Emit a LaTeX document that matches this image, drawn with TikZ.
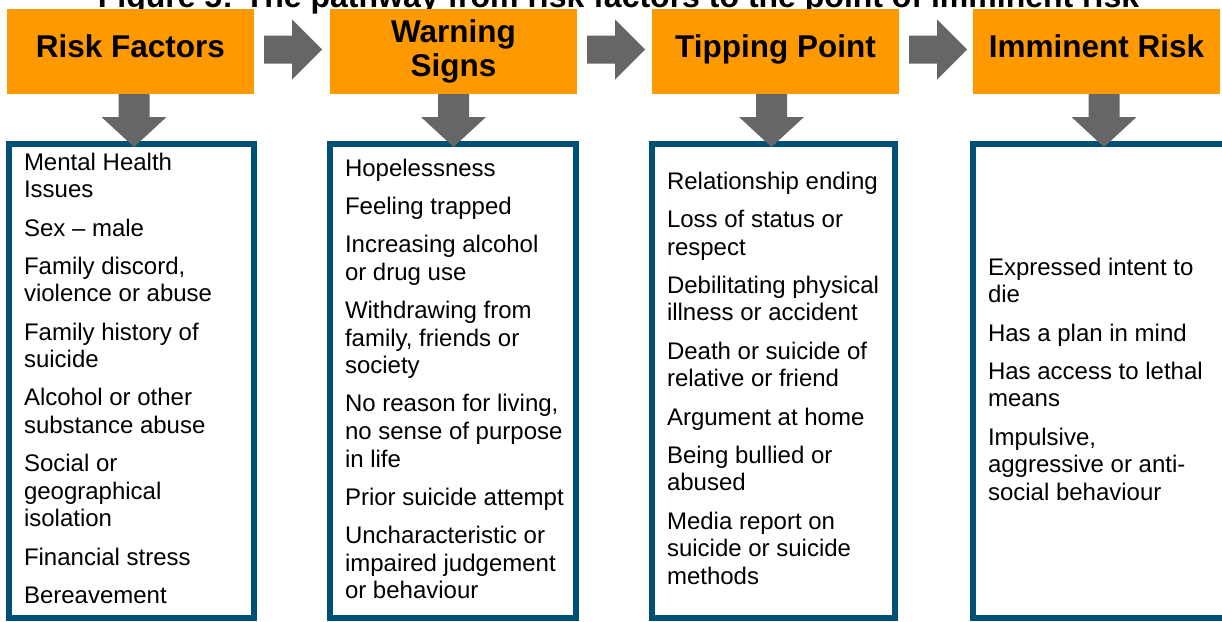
\documentclass[tikz,border=0pt]{standalone}
\usepackage{fontspec}
\setmainfont{Liberation Sans}
\usetikzlibrary{calc}
\definecolor{hdrorange}{RGB}{255,153,0}
\definecolor{arrgray}{RGB}{102,102,102}
\definecolor{boxblue}{RGB}{0,80,117}
\newcommand\rightblock[1]{%
  \fill[blockarrow] ($(#1.east)+(10,-16)$) -- ++(28,0) -- ++(0,-16) -- ++(30,30)
    -- ++(-30,30) -- ++(0,-16) -- ++(-28,0) -- cycle;}
\newcommand\downblock[2]{%
  \fill[blockarrow] ($(#1.south)+(#2-15.5,0)$) -- ++(31,0) -- ++(0,23) -- ++(17,0)
    -- ++(-32.5,30) -- ++(-32.5,-30) -- ++(17,0) -- cycle;}
\begin{document}
\begin{tikzpicture}[x=1pt,y=-1pt,
  header/.style={fill=hdrorange, minimum width=247pt, minimum height=85pt,
    inner sep=0pt, outer sep=0pt, font=\fontsize{31.5}{34}\selectfont\bfseries,
    align=center, anchor=north west},
  oneline/.style={text height=19.5pt, text depth=8.5pt},
  listbox/.style={draw=boxblue, line width=5.5pt, inner sep=0pt, outer sep=0pt,
    anchor=north west},
  items/.style={anchor=north west, inner sep=0pt, outer sep=0pt, align=left,
    font=\fontsize{24}{27.6}\selectfont},
  blockarrow/.style={fill=arrgray},
  titletext/.style={anchor=base, inner sep=0pt, font=\fontsize{32}{36}\selectfont\bfseries}
]
\clip (0,0) rectangle (1222,621);
\fill[white] (0,0) rectangle (1222,621);
\node[titletext] (title) at (618.5,7.5) {Figure 5: The pathway from risk factors to the point of imminent risk};

\node[header, oneline] (h1) at (7,9) {Risk Factors};
\node[header] (h2) at (330,9) {Warning\\Signs};
\node[header, oneline] (h3) at (652,9) {Tipping Point};
\node[header, oneline] (h4) at (973,9) {Imminent Risk};

\node[listbox, minimum width=245pt, minimum height=474pt] (b1) at (9,144) {};
\node[listbox, minimum width=246pt, minimum height=474pt] (b2) at (330,144) {};
\node[listbox, minimum width=243pt, minimum height=474pt] (b3) at (652,144) {};
\node[listbox, minimum width=260pt, minimum height=474pt] (b4) at (973,144) {};

\node[items] (t1) at (24,153) {Mental Health\\Issues\\[10.6pt]Sex – male\\[10.6pt]Family discord,\\violence or abuse\\[10.6pt]Family history of\\suicide\\[10.6pt]Alcohol or other\\substance abuse\\[10.6pt]Social or\\geographical\\isolation\\[10.6pt]Financial stress\\[10.6pt]Bereavement};
\node[items] (t2) at (345,159) {Hopelessness\\[10.6pt]Feeling trapped\\[10.6pt]Increasing alcohol\\or drug use\\[10.6pt]Withdrawing from\\family, friends or\\society\\[10.6pt]No reason for living,\\no sense of purpose\\in life\\[10.6pt]Prior suicide attempt\\[10.6pt]Uncharacteristic or\\impaired judgement\\or behaviour};
\node[items] (t3) at (667,172) {Relationship ending\\[10.6pt]Loss of status or\\respect\\[10.6pt]Debilitating physical\\illness or accident\\[10.6pt]Death or suicide of\\relative or friend\\[10.6pt]Argument at home\\[10.6pt]Being bullied or\\abused\\[10.6pt]Media report on\\suicide or suicide\\methods};
\node[items] (t4) at (988,258) {Expressed intent to\\die\\[10.6pt]Has a plan in mind\\[10.6pt]Has access to lethal\\means\\[10.6pt]Impulsive,\\aggressive or anti-\\social behaviour};

\rightblock{h1}
\rightblock{h2}
\rightblock{h3}
\downblock{h1}{3.5}
\downblock{h2}{0}
\downblock{h3}{-4}
\downblock{h4}{7.5}
\end{tikzpicture}
\end{document}
